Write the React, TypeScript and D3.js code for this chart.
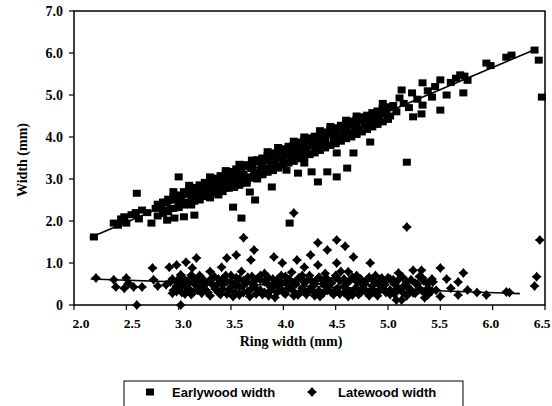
import React from "react";
import * as d3 from "d3";

const xTicks = [2.0, 2.5, 3.0, 3.5, 4.0, 4.5, 5.0, 5.5, 6.0, 6.5];
const yTicks = [0, 1, 2, 3, 4, 5, 6, 7];
const yTickLabels = ["0", "1.0", "2.0", "3.0", "4.0", "5.0", "6.0", "7.0"];

const earlywood: [number, number][] = [
  [2.19, 1.62], [2.38, 1.95], [2.42, 1.9], [2.45, 2.05], [2.48, 2.1], [2.5, 1.95], [2.55, 2.15],
  [2.59, 2.2], [2.62, 2.05], [2.65, 2.26], [2.7, 2.2], [2.74, 1.95], [2.6, 2.66], [2.78, 2.3],
  [2.82, 2.38], [2.85, 2.25], [2.88, 2.45], [2.89, 2.02], [2.92, 2.3], [2.95, 2.5], [2.96, 2.07],
  [2.98, 2.6], [3.0, 3.05], [3.0, 2.4], [3.02, 2.55], [3.05, 2.1], [3.05, 2.65], [3.08, 2.45],
  [3.1, 2.7], [3.12, 2.38], [3.12, 2.55], [3.15, 2.14], [3.15, 2.75], [3.18, 2.6], [3.2, 2.8],
  [3.2, 2.5], [3.22, 2.68], [3.25, 2.85], [3.25, 2.6], [3.28, 2.75], [3.3, 2.9], [3.3, 2.55],
  [3.32, 2.7], [3.35, 2.95], [3.35, 2.8], [3.38, 2.62], [3.4, 3.0], [3.4, 2.85], [3.42, 2.7],
  [3.45, 3.05], [3.45, 2.9], [3.48, 2.78], [3.5, 3.1], [3.5, 2.95], [3.52, 2.33], [3.53, 2.8],
  [3.55, 3.15], [3.55, 3.0], [3.58, 2.85], [3.6, 3.2], [3.6, 2.07], [3.6, 2.95], [3.62, 3.1],
  [3.65, 3.3], [3.65, 2.9], [3.68, 3.05], [3.68, 2.69], [3.7, 3.25], [3.72, 3.15], [3.73, 2.5],
  [3.75, 3.4], [3.75, 3.0], [3.78, 3.2], [3.8, 3.35], [3.8, 3.1], [3.82, 3.45], [3.85, 3.25],
  [3.85, 3.5], [3.88, 3.35], [3.89, 2.81], [3.9, 3.55], [3.9, 3.2], [3.92, 3.4], [3.95, 3.6],
  [3.95, 3.3], [3.98, 3.5], [4.0, 3.65], [4.0, 3.4], [4.03, 3.21], [4.03, 3.55], [4.05, 3.7],
  [4.08, 3.45], [4.1, 3.75], [4.1, 3.6], [4.12, 3.5], [4.14, 3.14], [4.15, 3.8], [4.15, 3.65],
  [4.18, 3.55], [4.2, 3.85], [4.2, 3.38], [4.22, 3.7], [4.25, 3.9], [4.25, 3.6], [4.27, 3.17],
  [4.28, 3.8], [4.3, 3.95], [4.3, 3.7], [4.33, 2.93], [4.33, 3.85], [4.35, 4.0], [4.38, 3.75],
  [4.4, 4.05], [4.4, 3.9], [4.42, 3.17], [4.42, 3.8], [4.45, 4.1], [4.48, 3.95], [4.5, 4.15],
  [4.51, 3.05], [4.51, 3.62], [4.52, 4.0], [4.55, 4.2], [4.58, 4.05], [4.6, 4.25], [4.61, 3.26],
  [4.62, 4.1], [4.65, 4.3], [4.67, 3.62], [4.68, 4.15], [4.7, 4.35], [4.72, 4.2], [4.75, 4.4],
  [4.78, 4.3], [4.8, 4.45], [4.83, 3.88], [4.83, 4.35], [4.85, 4.5], [4.88, 4.4], [4.9, 4.6],
  [4.92, 4.45], [4.95, 4.65], [4.98, 4.55], [5.0, 4.7], [5.02, 4.5], [5.05, 4.75], [5.08, 4.6],
  [5.11, 4.93], [5.13, 5.12], [5.15, 4.8], [5.18, 3.4], [5.2, 4.7], [5.23, 5.05], [5.24, 4.48],
  [5.28, 4.9], [5.32, 4.55], [5.33, 5.29], [5.33, 4.76], [5.38, 5.1], [5.42, 4.95], [5.45, 5.2],
  [5.5, 5.36], [5.5, 4.64], [5.56, 5.0], [5.6, 5.3], [5.65, 5.4], [5.69, 5.48], [5.72, 5.05],
  [5.73, 5.45], [5.76, 5.35], [5.94, 5.76], [5.98, 5.7], [6.13, 5.9], [6.18, 5.95], [6.4, 6.07],
  [6.44, 5.83], [6.47, 4.95], [4.06, 1.95], [3.45, 3.2], [3.7, 3.45], [3.95, 3.75], [4.2, 4.0],
  [4.45, 4.25], [4.7, 4.5], [4.95, 4.8], [3.3, 3.05], [3.1, 2.85], [2.95, 2.7], [4.6, 4.4],
  [4.35, 4.15], [4.1, 3.9], [3.85, 3.65], [3.58, 3.35],
];

const earlywoodDense: [number, number][] = [
  [2.8, 2.4], [2.8, 2.12], [2.85, 2.45], [2.85, 2.18], [2.9, 2.52], [2.9, 2.22], [2.95, 2.58], [2.95, 2.3],
  [3.0, 2.62], [3.0, 2.32], [3.05, 2.7], [3.05, 2.38], [3.1, 2.75], [3.1, 2.42], [3.15, 2.8], [3.15, 2.47],
  [3.2, 2.86], [3.2, 2.52], [3.25, 2.92], [3.25, 2.58], [3.3, 2.96], [3.3, 2.62], [3.35, 3.02], [3.35, 2.66],
  [3.4, 3.08], [3.4, 2.72], [3.45, 3.12], [3.45, 2.78], [3.5, 3.18], [3.5, 2.82], [3.55, 3.24], [3.55, 2.86],
  [3.6, 3.3], [3.6, 2.9], [3.65, 3.34], [3.65, 2.96], [3.7, 3.4], [3.7, 3.02], [3.75, 3.46], [3.75, 3.06],
  [3.8, 3.5], [3.8, 3.12], [3.85, 3.56], [3.85, 3.16], [3.9, 3.62], [3.9, 3.22], [3.95, 3.66], [3.95, 3.26],
  [4.0, 3.72], [4.0, 3.32], [4.05, 3.78], [4.05, 3.38], [4.1, 3.82], [4.1, 3.42], [4.15, 3.88], [4.15, 3.48],
  [4.2, 3.92], [4.2, 3.52], [4.25, 3.98], [4.25, 3.58], [4.3, 4.02], [4.3, 3.62], [4.35, 4.08], [4.35, 3.68],
  [4.4, 4.12], [4.4, 3.74], [4.45, 4.18], [4.45, 3.8], [4.5, 4.22], [4.5, 3.84], [4.55, 4.28], [4.55, 3.9],
  [4.6, 4.32], [4.6, 3.96], [4.65, 4.38], [4.65, 4.0], [4.7, 4.42], [4.7, 4.06], [4.75, 4.48], [4.75, 4.12],
  [4.8, 4.52], [4.8, 4.18], [4.85, 4.58], [4.85, 4.24], [4.9, 4.62], [4.9, 4.3], [4.95, 4.68], [4.95, 4.36],
  [5.0, 4.72], [5.0, 4.42],
];

const latewood: [number, number][] = [
  [2.21, 0.64], [2.38, 0.6], [2.4, 0.43], [2.5, 0.64], [2.48, 0.4], [2.52, 0.52], [2.57, 0.43],
  [2.65, 0.43], [2.75, 0.88], [2.76, 0.6], [2.8, 0.45], [2.88, 0.48], [2.91, 0.9], [2.98, 0.95],
  [3.07, 1.02], [3.17, 1.12], [3.13, 0.88], [3.02, 0.67], [3.12, 0.71], [2.6, 0.0], [3.02, 0.0],
  [2.92, 0.55], [2.95, 0.35], [2.98, 0.45], [3.0, 0.6], [3.03, 0.3], [3.05, 0.5], [3.08, 0.4],
  [3.1, 0.6], [3.12, 0.25], [3.15, 0.5], [3.18, 0.35], [3.2, 0.7], [3.22, 0.45], [3.25, 0.55],
  [3.28, 0.3], [3.3, 0.8], [3.32, 0.5], [3.35, 0.38], [3.38, 0.62], [3.4, 0.25], [3.42, 0.48],
  [3.45, 0.7], [3.48, 0.35], [3.5, 0.55], [3.52, 0.2], [3.55, 0.65], [3.58, 0.42], [3.6, 0.8],
  [3.62, 0.3], [3.65, 0.55], [3.68, 0.2], [3.7, 0.68], [3.72, 0.45], [3.75, 0.35], [3.78, 0.6],
  [3.8, 0.25], [3.82, 0.75], [3.85, 0.5], [3.88, 0.35], [3.9, 0.62], [3.92, 0.18], [3.95, 0.45],
  [3.98, 0.7], [4.0, 0.3], [4.02, 0.55], [4.05, 0.4], [4.08, 0.78], [4.1, 0.22], [4.12, 0.5],
  [4.15, 0.65], [4.18, 0.35], [4.2, 0.55], [4.22, 0.25], [4.25, 0.7], [4.28, 0.45], [4.3, 0.3],
  [4.32, 0.6], [4.35, 0.2], [4.38, 0.5], [4.4, 0.75], [4.42, 0.35], [4.45, 0.55], [4.48, 0.25],
  [4.5, 0.65], [4.52, 0.4], [4.55, 0.8], [4.58, 0.3], [4.6, 0.5], [4.62, 0.2], [4.65, 0.62],
  [4.68, 0.38], [4.7, 0.7], [4.72, 0.25], [4.75, 0.5], [4.78, 0.35], [4.8, 0.6], [4.82, 0.22],
  [4.85, 0.45], [4.88, 0.7], [4.9, 0.3], [4.92, 0.55], [4.95, 0.4], [4.97, 0.48], [5.0, 0.65],
  [5.02, 0.25], [5.05, 0.6], [5.08, 0.35], [5.1, 0.76], [5.13, 0.12], [5.14, 0.43], [5.18, 0.55],
  [5.2, 0.3], [5.24, 0.83], [5.24, 0.29], [5.28, 0.5], [5.32, 0.83], [5.33, 0.64], [5.35, 0.17],
  [5.38, 0.4], [5.43, 0.55], [5.46, 0.35], [5.5, 0.88], [5.5, 0.2], [5.56, 0.62], [5.6, 0.4],
  [5.67, 0.55], [5.67, 0.24], [5.72, 0.76], [5.76, 0.36], [5.85, 0.3], [5.94, 0.24], [6.13, 0.31],
  [6.16, 0.3], [6.42, 0.67], [6.4, 0.45], [6.45, 1.55], [5.18, 1.86], [4.1, 2.19],
  [3.62, 1.6], [3.72, 1.31], [3.55, 1.19], [3.69, 1.07], [3.91, 1.14], [3.99, 1.0], [4.13, 1.07],
  [4.2, 0.9], [4.26, 1.19], [3.41, 0.9], [3.46, 1.12], [4.33, 1.48], [4.42, 1.31], [4.51, 1.55],
  [4.59, 1.4], [4.67, 1.14], [4.51, 1.0], [4.33, 0.95], [4.62, 0.79], [4.83, 1.0], [5.08, 0.12],
];

const latewoodDense: [number, number][] = [
  [2.94, 0.28], [2.94, 0.62], [2.98, 0.32], [2.98, 0.55], [3.02, 0.42], [3.02, 0.72], [3.06, 0.26], [3.06, 0.6],
  [3.1, 0.38], [3.1, 0.52], [3.14, 0.3], [3.14, 0.66], [3.18, 0.45], [3.18, 0.58], [3.22, 0.28], [3.22, 0.64],
  [3.26, 0.36], [3.26, 0.5], [3.3, 0.22], [3.3, 0.6], [3.34, 0.44], [3.34, 0.68], [3.38, 0.3], [3.38, 0.52],
  [3.42, 0.38], [3.42, 0.62], [3.46, 0.26], [3.46, 0.56], [3.5, 0.42], [3.5, 0.7], [3.54, 0.3], [3.54, 0.5],
  [3.58, 0.24], [3.58, 0.62], [3.62, 0.46], [3.62, 0.58], [3.66, 0.32], [3.66, 0.66], [3.7, 0.4], [3.7, 0.52],
  [3.74, 0.26], [3.74, 0.6], [3.78, 0.36], [3.78, 0.7], [3.82, 0.3], [3.82, 0.56], [3.86, 0.22], [3.86, 0.64],
  [3.9, 0.42], [3.9, 0.5], [3.94, 0.3], [3.94, 0.6], [3.98, 0.38], [3.98, 0.54], [4.02, 0.26], [4.02, 0.68],
  [4.06, 0.44], [4.06, 0.6], [4.1, 0.32], [4.1, 0.52], [4.14, 0.24], [4.14, 0.62], [4.18, 0.4], [4.18, 0.7],
  [4.22, 0.3], [4.22, 0.56], [4.26, 0.38], [4.26, 0.6], [4.3, 0.22], [4.3, 0.5], [4.34, 0.34], [4.34, 0.66],
  [4.38, 0.28], [4.38, 0.58], [4.42, 0.42], [4.42, 0.62], [4.46, 0.3], [4.46, 0.52], [4.5, 0.36], [4.5, 0.7],
  [4.54, 0.26], [4.54, 0.58], [4.58, 0.44], [4.58, 0.62], [4.62, 0.32], [4.62, 0.54], [4.66, 0.24], [4.66, 0.66],
  [4.7, 0.4], [4.7, 0.56], [4.74, 0.3], [4.74, 0.62], [4.78, 0.36], [4.78, 0.5], [4.82, 0.28], [4.82, 0.66],
  [4.86, 0.34], [4.86, 0.58], [4.9, 0.22], [4.9, 0.52], [4.94, 0.4], [4.94, 0.64], [4.98, 0.3], [4.98, 0.56],
  [5.02, 0.36], [5.02, 0.62], [5.06, 0.26], [5.06, 0.5], [5.1, 0.4], [5.1, 0.6], [5.14, 0.3], [5.14, 0.66],
  [5.18, 0.22], [5.18, 0.45], [5.22, 0.36], [5.22, 0.6], [5.26, 0.28], [5.26, 0.52], [5.3, 0.4], [5.3, 0.68],
  [5.34, 0.3], [5.34, 0.58], [5.38, 0.24], [5.38, 0.5], [5.42, 0.34], [5.42, 0.62],
];

const earlyFit: [number, number][] = [[2.15, 1.6], [6.4, 6.08]];
const lateFit: [number, number][] = [[2.16, 0.62], [6.26, 0.27]];

const legendLabels = ["Earlywood width", "Latewood width"];

const serif = "'Liberation Serif', 'Times New Roman', serif";
const sans = "'Liberation Sans', Arial, sans-serif";

function crossPath(cx: number, cy: number, r: number) {
  const t = r * 0.45;
  return `M${cx - r},${cy} L${cx - t},${cy - t} L${cx},${cy - r} L${cx + t},${cy - t} L${cx + r},${cy} L${cx + t},${cy + t} L${cx},${cy + r} L${cx - t},${cy + t} Z`;
}

export default function App() {
  const W = 552, H = 406;
  const x = d3.scaleLinear().domain([2, 6.5]).range([74, 545]);
  const y = d3.scaleLinear().domain([0, 7]).range([305, 11]);
  const line = d3.line<[number, number]>().x(d => x(d[0])).y(d => y(d[1]));
  const allEarly = earlywood.concat(earlywoodDense);
  const allLate = latewood.concat(latewoodDense);

  return (
    <svg width={W} height={H} style={{ position: "absolute", left: 0, top: 0, background: "#fff" }}>
      <rect x={0} y={0} width={W} height={H} fill="#fff" />
      <rect x={x(2)} y={y(7)} width={x(6.5) - x(2)} height={y(0) - y(7)} fill="none" stroke="#000" strokeWidth={1.5} />
      {allEarly.map((d, i) => (
        <rect key={"e" + i} x={x(d[0]) - 4} y={y(d[1]) - 3.5} width={8} height={7} fill="#000" />
      ))}
      {allLate.map((d, i) => (
        <path key={"l" + i} d={crossPath(x(d[0]), y(d[1]), 5)} fill="#000" />
      ))}
      <path d={line(earlyFit) || ""} fill="none" stroke="#000" strokeWidth={1.6} />
      <path d={line(lateFit) || ""} fill="none" stroke="#000" strokeWidth={1.6} />
      {xTicks.map((t, i) => (
        <g key={"xt" + t}>
          <line x1={x(t)} x2={x(t)} y1={y(0)} y2={y(0) + 5} stroke="#000" strokeWidth={1.2} />
          <text x={x(t) + 7 - i * 1.1} y={328} textAnchor="middle" fontFamily={serif} fontWeight="bold" fontSize={13.5}>{t.toFixed(1)}</text>
        </g>
      ))}
      {yTicks.map((t, i) => (
        <g key={"yt" + t}>
          <line x1={x(2) - 5} x2={x(2)} y1={y(t)} y2={y(t)} stroke="#000" strokeWidth={1.2} />
          <text x={63} y={y(t) + 5} textAnchor="end" fontFamily={serif} fontWeight="bold" fontSize={14}>{yTickLabels[i]}</text>
        </g>
      ))}
      <text x={291} y={346} textAnchor="middle" fontFamily={serif} fontWeight="bold" fontSize={14}>Ring width (mm)</text>
      <text transform={`translate(27,${160}) rotate(-90)`} textAnchor="middle" fontFamily={serif} fontWeight="bold" fontSize={14}>Width (mm)</text>
      <rect x={124} y={381} width={339} height={40} fill="none" stroke="#000" strokeWidth={1} />
      <rect x={146} y={388.5} width={8} height={7} fill="#000" />
      <text x={172} y={397} fontFamily={sans} fontWeight="bold" fontSize={13}>{legendLabels[0]}</text>
      <path d={crossPath(312, 392, 5)} fill="#000" />
      <text x={338} y={397} fontFamily={sans} fontWeight="bold" fontSize={13}>{legendLabels[1]}</text>
    </svg>
  );
}
